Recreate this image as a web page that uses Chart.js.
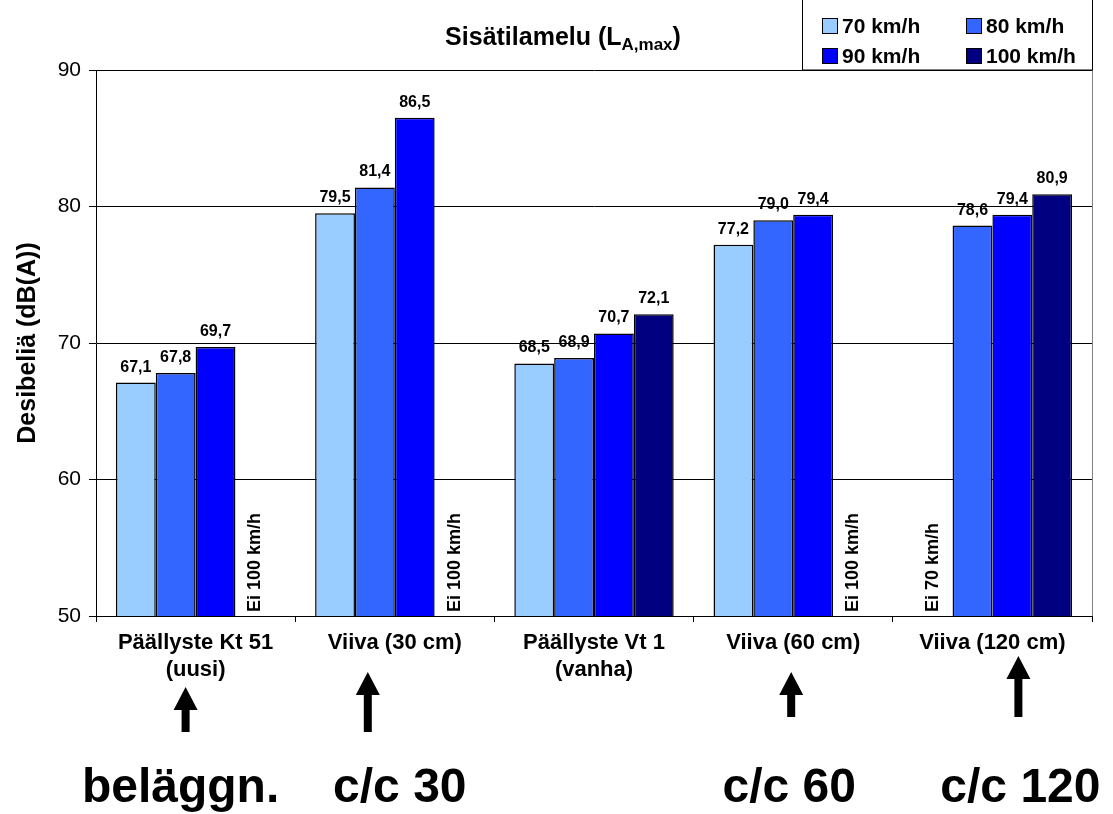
<!DOCTYPE html>
<html>
<head>
<meta charset="utf-8">
<script src="https://cdn.jsdelivr.net/npm/chart.js@4.4.1/dist/chart.umd.min.js"></script>
<style>
  html, body { margin: 0; padding: 0; background: #fff; }
  #wrap { position: relative; width: 1113px; height: 814px; }
</style>
</head>
<body>
<div id="wrap"><canvas id="chart"></canvas></div>
<script>
// data
const categories = [['Päällyste Kt 51', '(uusi)'], 'Viiva (30 cm)', ['Päällyste Vt 1', '(vanha)'], 'Viiva (60 cm)', 'Viiva (120 cm)'];
const speeds = ['70 km/h', '80 km/h', '90 km/h', '100 km/h'];
const v70 = [67.1, 79.5, 68.5, 77.2, null];
const v80 = [67.8, 81.4, 68.9, 79.0, 78.6];
const v90 = [69.7, 86.5, 70.7, 79.4, 79.4];
const v100 = [null, null, 72.1, null, 80.9];
const yTicks = [50, 60, 70, 80, 90];
const colors = ['#99CCFF', '#3366FF', '#0000FF', '#000080'];

// notes under the chart (offsets from the category centre)
const bottomNotes = ['beläggn.', 'c/c 30', '', 'c/c 60', 'c/c 120'];
const noteShift = [-15, 5, 0, -4, 28];
const arrowShift = [-10, -27, 0, -2, 26];
const arrowTop = [687, 672, null, 672, 656];
const arrowBottom = [732, 732, null, 717, 717];

const FONT = '"Liberation Sans", Arial, sans-serif';

function fmt(v) { return v.toFixed(1).replace('.', ','); }

function drawArrow(ctx, cx, top, bottom) {
  const headH = 23, headW = 24, shaftW = 8;
  ctx.beginPath();
  ctx.moveTo(cx, top);
  ctx.lineTo(cx + headW / 2, top + headH);
  ctx.lineTo(cx + shaftW / 2, top + headH);
  ctx.lineTo(cx + shaftW / 2, bottom);
  ctx.lineTo(cx - shaftW / 2, bottom);
  ctx.lineTo(cx - shaftW / 2, top + headH);
  ctx.lineTo(cx - headW / 2, top + headH);
  ctx.closePath();
  ctx.fill();
}

const decorations = {
  id: 'decorations',
  afterDatasetsDraw(chart) {
    const { ctx, chartArea } = chart;
    ctx.save();
    // grey right edge of plot area
    ctx.strokeStyle = '#808080';
    ctx.lineWidth = 1;
    ctx.beginPath();
    ctx.moveTo(chartArea.right + 0.5, chartArea.top);
    ctx.lineTo(chartArea.right + 0.5, chartArea.bottom);
    ctx.stroke();

    ctx.fillStyle = '#000';
    chart.data.datasets.forEach((ds, d) => {
      const meta = chart.getDatasetMeta(d);
      meta.data.forEach((bar, i) => {
        const v = ds.data[i];
        if (v == null) {
          ctx.save();
          ctx.translate(bar.x, chartArea.bottom - 4);
          ctx.rotate(-Math.PI / 2);
          ctx.font = 'bold 18px ' + FONT;
          ctx.textAlign = 'left';
          ctx.textBaseline = 'middle';
          ctx.fillText('Ei ' + ds.label, 0, 0);
          ctx.restore();
        } else {
          ctx.font = 'bold 16px ' + FONT;
          ctx.textAlign = 'center';
          ctx.textBaseline = 'alphabetic';
          ctx.fillText(fmt(v), bar.x, bar.y - 11);
        }
      });
    });
    ctx.restore();
  },
  afterDraw(chart) {
    const { ctx, scales: { x } } = chart;
    ctx.save();
    ctx.fillStyle = '#000';

    // title with subscript
    const big = 'bold 25px ' + FONT, small = 'bold 17px ' + FONT;
    const parts = [['Sisätilamelu (L', big, 0], ['A,max', small, 5], [')', big, 0]];
    let total = 0;
    parts.forEach(p => { ctx.font = p[1]; total += ctx.measureText(p[0]).width; });
    let tx = 563 - total / 2;
    ctx.textAlign = 'left';
    ctx.textBaseline = 'alphabetic';
    parts.forEach(p => {
      ctx.font = p[1];
      ctx.fillText(p[0], tx, 45 + p[2]);
      tx += ctx.measureText(p[0]).width;
    });

    // legend box
    ctx.fillStyle = '#fff';
    ctx.fillRect(802.5, -0.5, 290, 70.5);
    ctx.strokeStyle = '#000';
    ctx.lineWidth = 1;
    ctx.strokeRect(802.5, -0.5, 290, 70.5);
    const colX = [822, 966], rowY = [26, 56];
    ctx.font = 'bold 21px ' + FONT;
    ctx.textBaseline = 'middle';
    chart.data.datasets.forEach((ds, d) => {
      const lx = colX[d % 2], ly = rowY[Math.floor(d / 2)];
      ctx.fillStyle = ds.backgroundColor;
      ctx.fillRect(lx, ly - 8, 16, 16);
      ctx.strokeRect(lx + 0.5, ly - 7.5, 15, 15);
      ctx.fillStyle = '#000';
      ctx.fillText(ds.label, lx + 20, ly + 1);
    });

    // arrows and notes below the chart
    ctx.textAlign = 'center';
    ctx.textBaseline = 'alphabetic';
    ctx.font = 'bold 48px ' + FONT;
    bottomNotes.forEach((t, i) => {
      const cx = x.getPixelForValue(i);
      if (arrowTop[i] != null) drawArrow(ctx, cx + arrowShift[i], arrowTop[i], arrowBottom[i]);
      if (t) ctx.fillText(t, cx + noteShift[i], 802);
    });
    ctx.restore();
  }
};

const datasets = [v70, v80, v90, v100].map((vals, d) => ({
  label: speeds[d],
  data: vals,
  backgroundColor: colors[d],
  borderColor: '#000',
  borderWidth: 1.5,
  categoryPercentage: 0.8,
  barPercentage: 1.0
}));

new Chart(document.getElementById('chart'), {
  type: 'bar',
  data: { labels: categories, datasets },
  options: {
    responsive: true,
    maintainAspectRatio: false,
    animation: false,
    devicePixelRatio: 1,
    layout: { padding: { top: 70, right: 21, bottom: 128, left: 0 } },
    plugins: {
      legend: { display: false },
      title: { display: false },
      tooltip: { enabled: false }
    },
    scales: {
      x: {
        grid: { drawOnChartArea: false, drawTicks: true, tickLength: 6, color: '#000', offset: true },
        border: { display: true, color: '#000', width: 1 },
        ticks: { color: '#000', padding: 8, font: { family: FONT, size: 22, weight: 'bold' }, maxRotation: 0, autoSkip: false },
        afterFit(scale) { scale.height = 70; }
      },
      y: {
        min: yTicks[0],
        max: yTicks[yTicks.length - 1],
        afterBuildTicks(scale) { scale.ticks = yTicks.map(v => ({ value: v })); },
        grid: { color: '#000', lineWidth: 1, tickLength: 7 },
        border: { display: true, color: '#000', width: 1 },
        ticks: { color: '#000', padding: 8, font: { family: FONT, size: 21 } },
        title: { display: true, text: 'Desibeliä (dB(A))', color: '#000', font: { family: FONT, size: 25, weight: 'bold' }, padding: { top: 13, bottom: 0 } },
        afterFit(scale) { scale.width = 96; }
      }
    }
  },
  plugins: [decorations]
});
</script>
</body>
</html>
